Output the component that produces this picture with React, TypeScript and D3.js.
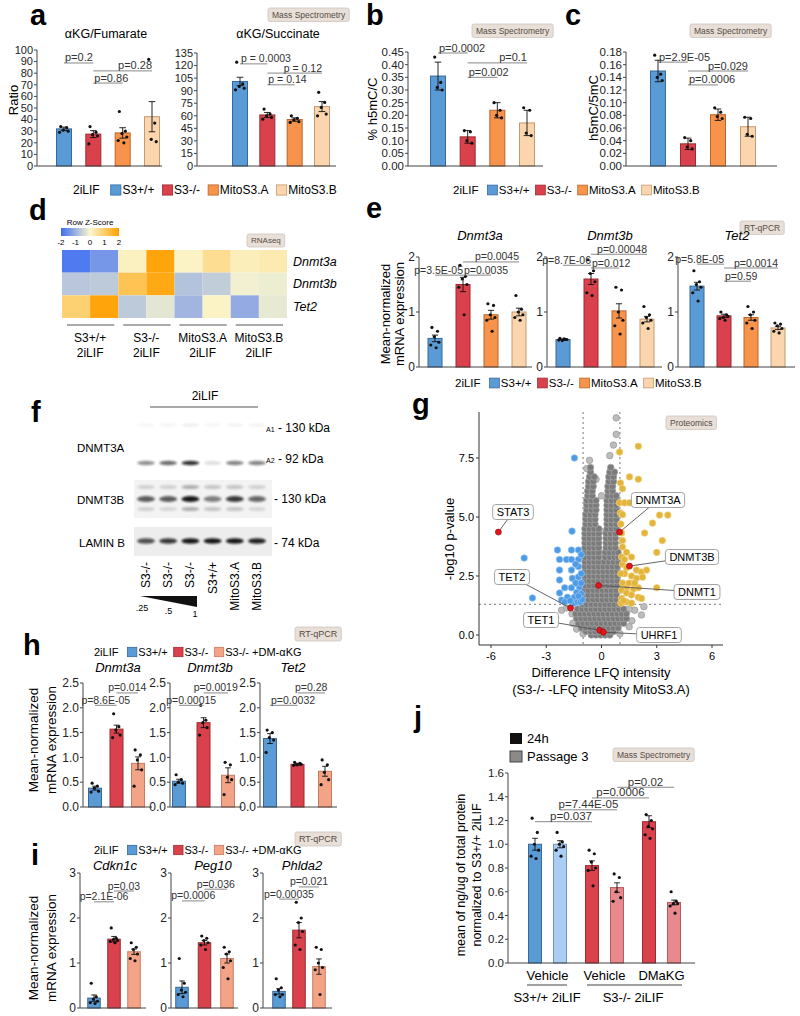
import React from "react";
import * as d3 from "d3";

const FONT = "Arial, 'Liberation Sans', Helvetica, sans-serif";
const AX = "#444";

const COL = {
  wt: "#5b9bd5", wtS: "#34699d",
  ko: "#d9414c", koS: "#9e2a31",
  mA: "#f7934a", mAS: "#b9652b",
  mB: "#fbd5ae", mBS: "#c29a70",
  dm: "#f4a486", dmS: "#c97a60",
  wtL: "#aacdf6", wtLS: "#6c93bf",
  koL: "#e8898d", koLS: "#b55a60",
};

// ===================== DATA =====================
const groups4 = ["S3+/+", "S3-/-", "MitoS3.A", "MitoS3.B"];
const groups3 = ["S3+/+", "S3-/-", "S3-/- +DM-αKG"];

// a
const fumMeans = [32, 27.5, 28.5, 42.5];
const fumErr = [1.5, 3, 4.5, 13];
const fumDots = [[34, 33, 31, 30, 29], [34, 29, 27, 26, 19], [47, 30, 28, 25, 22, 20], [92, 37, 23, 21]];
const sucMeans = [101, 61, 55.5, 71];
const sucErr = [5, 3, 2, 6];
const sucDots = [[124, 98, 95, 93, 91], [68, 62, 60, 58, 56], [60, 57, 55, 53, 52], [88, 76, 70, 62, 60]];
// b
const h5mcMeans = [0.355, 0.115, 0.22, 0.17];
const h5mcErr = [0.055, 0.025, 0.03, 0.05];
const h5mcDots = [[0.43, 0.33, 0.31, 0.3], [0.14, 0.135, 0.1, 0.09], [0.25, 0.22, 0.2, 0.19], [0.23, 0.22, 0.13, 0.12]];
// c
const ratioMeans = [0.15, 0.035, 0.081, 0.062];
const ratioErr = [0.017, 0.009, 0.009, 0.015];
const ratioDots = [[0.175, 0.145, 0.14, 0.135], [0.045, 0.04, 0.03, 0.027], [0.092, 0.085, 0.078, 0.075], [0.077, 0.075, 0.05, 0.047]];

// d
const dGenes = ["Dnmt3a", "Dnmt3b", "Tet2"];
const dZ = [
  [-1.8, -1.4, 0.15, 1.9, 0.1, 0.6, 0.2, 0.3],
  [-0.7, -0.65, 1.2, 1.8, -0.75, -0.6, -0.1, -0.15],
  [0.9, 1.9, -0.65, -0.25, -0.95, 0.1, -1.1, -0.2],
];
const zTicks = [-2, -1, 0, 1, 2];

// e
const eGenes = ["Dnmt3a", "Dnmt3b", "Tet2"];
const eMeans = [[0.52, 1.5, 0.95, 1.0], [0.5, 1.6, 1.02, 0.87], [1.47, 0.93, 0.9, 0.71]];
const eErr = [[0.06, 0.13, 0.08, 0.07], [0.01, 0.1, 0.13, 0.05], [0.07, 0.03, 0.05, 0.03]];
const eDots = [
  [[0.72, 0.65, 0.55, 0.45, 0.4, 0.35], [1.85, 1.65, 1.6, 1.5, 1.45, 0.95], [1.15, 1.12, 0.95, 0.9, 0.85, 0.65], [1.3, 1.05, 1.0, 0.95, 0.9, 0.85]],
  [[0.52, 0.5, 0.48, 0.5, 0.49, 0.51], [1.95, 1.75, 1.7, 1.55, 1.35, 1.3], [1.45, 1.4, 1.0, 0.85, 0.75, 0.6], [1.1, 0.95, 0.9, 0.85, 0.8, 0.7]],
  [[1.75, 1.55, 1.5, 1.45, 1.35, 1.2], [1.0, 0.95, 0.9, 0.92, 0.88, 0.85], [1.1, 1.0, 0.95, 0.85, 0.8, 0.7], [0.8, 0.78, 0.75, 0.7, 0.65, 0.62]],
];

// f
const blotLanes = ["S3-/-", "S3-/-", "S3-/-", "S3+/+", "MitoS3.A", "MitoS3.B"];
const dnmt3aA1 = [0.03, 0.04, 0.06, 0.03, 0.04, 0.04];
const dnmt3aA2 = [0.45, 0.6, 0.85, 0.12, 0.5, 0.5];
const dnmt3bUpper = [0.15, 0.15, 0.3, 0.2, 0.2, 0.15];
const dnmt3bMain = [0.65, 0.65, 0.95, 0.5, 0.8, 0.6];
const dnmt3bLower = [0.15, 0.12, 0.3, 0.2, 0.2, 0.12];
const laminB = [0.7, 0.8, 0.95, 0.95, 0.95, 0.9];
const wedgeLabels = [".25", ".5", "1"];

// g
const grayCloudRows = [
  "0.0|-0.55 -0.3 -0.05 0.2 0.45",
  "0.15|-0.85 -0.6 -0.35 -0.1 0.15 0.4 0.65",
  "0.3|-1.1 -0.85 -0.6 -0.35 -0.1 0.15 0.4 0.65 0.9",
  "0.5|-1.25 -1.0 -0.75 -0.5 -0.25 0.0 0.25 0.5 0.75 1.0 1.2",
  "0.7|-1.35 -1.1 -0.85 -0.6 -0.35 -0.1 0.15 0.4 0.65 0.9 1.15 1.35",
  "0.9|-1.4 -1.15 -0.9 -0.65 -0.4 -0.15 0.1 0.35 0.6 0.85 1.1 1.35",
  "1.1|-1.3 -1.05 -0.8 -0.55 -0.3 -0.05 0.2 0.45 0.7 0.95 1.2",
  "1.3|-1.05 -0.8 -0.55 -0.3 -0.05 0.2 0.45 0.7 0.95",
  "1.5|-0.95 -0.7 -0.45 -0.2 0.05 0.3 0.55 0.8",
  "1.7|-0.95 -0.7 -0.45 -0.2 0.05 0.3 0.55 0.8",
  "1.9|-0.95 -0.7 -0.45 -0.2 0.05 0.3 0.55 0.8",
  "2.1|-0.9 -0.65 -0.4 -0.15 0.1 0.35 0.6 0.85",
  "2.3|-0.9 -0.65 -0.4 -0.15 0.1 0.35 0.6 0.85",
  "2.5|-0.9 -0.65 -0.4 -0.15 0.1 0.35 0.6 0.85",
  "2.7|-0.9 -0.65 -0.4 -0.15 0.1 0.35 0.6 0.85",
  "2.9|-0.9 -0.65 -0.4 -0.15 0.1 0.35 0.6 0.85",
  "3.1|-0.9 -0.65 -0.4 -0.15 0.15 0.4 0.65 0.9",
  "3.3|-0.9 -0.65 -0.4 -0.15 0.2 0.45 0.7 0.9",
  "3.5|-0.9 -0.65 -0.4 -0.15 0.2 0.45 0.7 0.9",
  "3.7|-0.9 -0.65 -0.4 -0.15 0.25 0.5 0.75",
  "3.9|-0.9 -0.65 -0.4 -0.15 0.25 0.5 0.75",
  "4.1|-0.9 -0.65 -0.4 -0.15 0.25 0.5 0.75",
  "4.3|-0.9 -0.65 -0.4 -0.15 0.25 0.5 0.75",
  "4.5|-0.9 -0.65 -0.4 -0.15 0.3 0.55 0.8",
  "4.7|-0.85 -0.6 -0.35 0.3 0.55 0.8",
  "4.9|-0.85 -0.6 -0.35 0.3 0.55 0.8",
  "5.1|-0.85 -0.6 -0.35 0.3 0.55 0.8",
  "5.3|-0.8 -0.55 -0.3 0.3 0.55 0.8",
  "5.5|-0.8 -0.55 -0.3 0.3 0.55 0.8",
  "5.7|-0.8 -0.55 -0.3 0.3 0.55 0.8",
  "5.9|-0.75 -0.5 0.35 0.6 0.8",
  "6.1|-0.75 -0.5 0.35 0.6",
  "6.3|-0.7 -0.45 0.35 0.6",
  "6.5|-0.7 -0.45 0.4 0.65",
  "6.7|-0.65 -0.4 0.4 0.65",
  "6.9|-0.6 0.45 0.7",
  "7.1|-0.6 0.5",
];
const grayOutliers = [[0.8, 9.2], [0.8, 8.5], [0.65, 8.05], [0.45, 7.6], [-0.65, 7.4], [-0.8, 7.05], [-0.3, 6.6], [0.0, 5.9], [-0.05, 4.4], [-2.17, 1.05], [-2.5, 0.75], [2.17, 0.85], [1.8, 1.05], [2.3, 1.2], [-1.9, 1.15], [-1.6, 0.9], [1.5, 1.1], [1.65, 0.6], [-1.55, 0.5], [1.5, 0.35], [-1.35, 0.25], [1.0, 0.05], [-1.0, 0.05]];
const blueHits = [[-1.47, 7.5], [-1.6, 4.4], [-4.2, 3.26], [-3.75, 1.57], [-2.39, 3.6], [-1.63, 3.6], [-1.25, 3.6], [-2.28, 3.2], [-1.9, 3.2], [-1.63, 3.2], [-1.25, 3.2], [-1.25, 2.9], [-2.28, 2.75], [-1.63, 2.75], [-2.28, 2.33], [-1.58, 2.4], [-1.25, 2.46], [-2.0, 2.0], [-1.63, 2.0], [-1.2, 2.03], [-2.28, 1.78], [-1.85, 1.6], [-1.47, 1.6], [-1.2, 1.57], [-2.17, 1.48], [-1.5, 1.35], [-1.3, 1.4], [-1.15, 1.4], [-2.0, 1.4], [-1.35, 1.8], [-1.1, 1.75], [-1.4, 2.2], [-1.1, 2.2], [-1.1, 2.6], [-1.4, 3.0], [-1.1, 3.4], [-1.7, 1.45], [-1.05, 1.5], [-1.25, 1.65]];
const yellowHits = [[2.0, 8.0], [0.98, 7.75], [1.52, 6.7], [2.0, 6.6], [1.03, 6.44], [1.14, 6.2], [0.98, 5.6], [1.25, 5.6], [1.52, 5.6], [1.03, 5.17], [1.14, 5.1], [3.15, 5.08], [3.6, 5.08], [2.77, 4.74], [2.34, 4.32], [3.3, 4.0], [1.09, 4.32], [1.14, 4.0], [1.14, 3.73], [3.0, 3.5], [1.36, 3.5], [1.63, 3.3], [1.09, 3.3], [1.14, 3.0], [1.36, 2.85], [1.9, 2.75], [2.17, 2.67], [2.45, 2.75], [1.25, 2.6], [1.63, 2.5], [1.9, 2.4], [2.23, 2.45], [1.14, 2.2], [1.36, 2.0], [1.74, 1.95], [2.0, 2.0], [3.0, 2.0], [1.09, 1.9], [1.36, 1.78], [1.63, 1.7], [2.0, 1.6], [1.09, 1.55], [1.36, 1.4], [1.63, 1.35], [2.17, 1.55], [1.05, 2.6], [1.05, 1.35], [1.2, 1.45], [1.5, 2.2], [1.8, 2.2], [1.25, 3.2], [1.05, 4.7]];
const volcanoGenes = [
  { name: "STAT3", x: -5.6, y: 4.36 },
  { name: "TET2", x: -1.68, y: 1.14 },
  { name: "TET1", x: -0.1, y: 0.2 },
  { name: "UHRF1", x: 0.1, y: 0.12 },
  { name: "DNMT1", x: -0.16, y: 2.1 },
  { name: "DNMT3A", x: 0.98, y: 4.36 },
  { name: "DNMT3B", x: 1.52, y: 2.92 },
];
const volcanoXTicks = [-6, -3, 0, 3, 6];
const volcanoYTicks = [0, 2.5, 5, 7.5];

// h
const hGenes = ["Dnmt3a", "Dnmt3b", "Tet2"];
const hMeans = [[0.38, 1.57, 0.88], [0.52, 1.7, 0.64], [1.38, 0.86, 0.72]];
const hErr = [[0.04, 0.08, 0.13], [0.04, 0.1, 0.15], [0.1, 0.02, 0.1]];
const hDots = [
  [[0.48, 0.42, 0.38, 0.32, 0.3], [1.88, 1.62, 1.55, 1.45, 1.4], [1.15, 1.05, 0.95, 0.75, 0.42]],
  [[0.65, 0.55, 0.5, 0.48, 0.45], [2.05, 1.75, 1.7, 1.6, 1.45], [0.9, 0.85, 0.6, 0.55, 0.25]],
  [[1.55, 1.5, 1.4, 1.35, 1.1], [0.9, 0.88, 0.85, 0.86, 0.84], [0.95, 0.85, 0.7, 0.55, 0.45]],
];

// i
const iGenes = ["Cdkn1c", "Peg10", "Phlda2"];
const iMeans = [[0.22, 1.53, 1.25], [0.46, 1.45, 1.1], [0.37, 1.73, 0.92]];
const iErr = [[0.07, 0.06, 0.06], [0.14, 0.05, 0.1], [0.06, 0.17, 0.17]];
const iDots = [
  [[0.55, 0.25, 0.2, 0.15, 0.12, 0.1], [1.78, 1.55, 1.52, 1.5, 1.48, 1.45], [1.45, 1.35, 1.3, 1.2, 1.1, 1.05]],
  [[1.1, 0.55, 0.4, 0.35, 0.3, 0.25], [1.6, 1.55, 1.5, 1.45, 1.4, 1.3], [1.35, 1.25, 1.2, 1.05, 0.9, 0.65]],
  [[0.65, 0.45, 0.4, 0.3, 0.3, 0.25], [2.35, 2.0, 1.9, 1.7, 1.4, 1.3], [1.35, 1.3, 1.0, 0.9, 0.85, 0.3]],
];

// j
const jConditions = ["S3+/+ Vehicle", "S3-/- Vehicle", "S3-/- DMaKG"];
const jTimes = ["24h", "Passage 3"];
const jMeans = [1.0, 1.0, 0.82, 0.635, 1.19, 0.51];
const jErr = [0.05, 0.03, 0.04, 0.04, 0.05, 0.02];
const jDots = [[1.22, 1.1, 1.0, 0.95, 0.9, 0.88], [1.1, 1.02, 1.0, 0.98, 0.95, 0.9], [0.95, 0.92, 0.85, 0.8, 0.78, 0.65], [0.75, 0.72, 0.6, 0.55, 0.52], [1.25, 1.2, 1.15, 1.13, 1.08, 1.05], [0.6, 0.52, 0.5, 0.5, 0.48, 0.42]];

// ===================== HELPERS =====================
let _ctx: any = null;
function textW(s: string, size: number) {
  if (!_ctx) _ctx = document.createElement("canvas").getContext("2d");
  _ctx.font = `${size}px Arial, "Liberation Sans", sans-serif`;
  return _ctx.measureText(s).width;
}

type PV = { a: number; b: number; y: number; label: string; anchor: "start" | "middle" | "end" };
type BCProps = {
  axisX: number; xEnd: number; yBottom: number; yTop: number; max: number;
  ticks: number[]; fmt: (v: number) => string; tickSize: number;
  xs: number[]; barW: number; means: number[]; errs: number[]; dots: number[][];
  fills: string[]; strokes: string[]; pvals: PV[]; pSize: number; dotR?: number;
};
const JIT = [-0.22, 0.18, -0.05, 0.28, -0.3, 0.08, 0.24, -0.14];

function BarChart(p: BCProps) {
  const y = d3.scaleLinear().domain([0, p.max]).range([p.yBottom, p.yTop]);
  const hw = p.barW / 2;
  const r = p.dotR ?? 1.6;
  return (
    <g>
      {p.means.map((m, i) => (
        <rect key={"b" + i} x={p.xs[i] - hw} y={y(m)} width={p.barW} height={p.yBottom - y(m)} fill={p.fills[i]} stroke={p.strokes[i]} strokeWidth={1} />
      ))}
      {p.means.map((m, i) => {
        const e = p.errs[i];
        const cx = p.xs[i];
        const cw = p.barW * 0.22;
        return (
          <g key={"e" + i} stroke="#111" strokeWidth={0.9}>
            <line x1={cx} x2={cx} y1={y(m - e)} y2={y(m + e)} />
            <line x1={cx - cw} x2={cx + cw} y1={y(m + e)} y2={y(m + e)} />
            <line x1={cx - cw} x2={cx + cw} y1={y(m - e)} y2={y(m - e)} />
          </g>
        );
      })}
      {p.dots.map((ds, i) => ds.map((d, j) => (
        <circle key={`d${i}-${j}`} cx={p.xs[i] + JIT[j % 8] * p.barW} cy={y(d)} r={r} fill="#111" />
      )))}
      <line x1={p.axisX} x2={p.axisX} y1={p.yBottom} y2={p.yTop} stroke={AX} />
      <line x1={p.axisX} x2={p.xEnd} y1={p.yBottom} y2={p.yBottom} stroke={AX} />
      {p.ticks.map((t) => (
        <g key={"t" + t}>
          <line x1={p.axisX - 3} x2={p.axisX} y1={y(t)} y2={y(t)} stroke={AX} />
          <text x={p.axisX - 4} y={y(t)} dy="0.35em" textAnchor="end" fontSize={p.tickSize} fill="#222">{p.fmt(t)}</text>
        </g>
      ))}
      {p.pvals.map((pv, k) => {
        const x1 = p.xs[pv.a], x2 = p.xs[pv.b], yy = y(pv.y);
        const tx = pv.anchor === "start" ? x1 + 1 : pv.anchor === "end" ? x2 : (x1 + x2) / 2;
        return (
          <g key={"p" + k}>
            <line x1={x1} x2={x2} y1={yy} y2={yy} stroke="#888" strokeWidth={1} />
            <text x={tx} y={yy - 1.5} textAnchor={pv.anchor} fontSize={p.pSize} fill="#333">{pv.label}</text>
          </g>
        );
      })}
    </g>
  );
}

function Badge({ x, y, text, size = 8.5 }: { x: number; y: number; text: string; size?: number }) {
  const w = textW(text, size) + 8;
  const h = size + 5;
  return (
    <g>
      <rect x={x} y={y} width={w} height={h} rx={2} fill="#e7dfd8" stroke="#cfc5bc" strokeWidth={0.8} />
      <text x={x + w / 2} y={y + h / 2} dy="0.35em" textAnchor="middle" fontSize={size} fill="#574c44">{text}</text>
    </g>
  );
}

function Legend({ x, y, size, gap, labels, fills, strokes }: { x: number; y: number; size: number; gap: number; labels: string[]; fills: string[]; strokes: string[] }) {
  let cx = x + textW("2iLIF", size) + gap + 3;
  const els: any[] = [<text key="t" x={x} y={y} dy="0.35em" fontSize={size}>2iLIF</text>];
  const s = size * 0.85;
  labels.forEach((lab, i) => {
    els.push(<rect key={"r" + i} x={cx} y={y - s / 2} width={s} height={s} fill={fills[i]} stroke={strokes[i]} strokeWidth={0.8} />);
    cx += s + 1.5;
    els.push(<text key={"l" + i} x={cx} y={y} dy="0.35em" fontSize={size}>{lab}</text>);
    cx += textW(lab, size) + gap;
  });
  return <g>{els}</g>;
}

function Letter({ x, y, c }: { x: number; y: number; c: string }) {
  return <text x={x} y={y} fontSize={29} fontWeight="bold">{c}</text>;
}

function YLabel({ x, y, lines, size, gap }: { x: number; y: number; lines: string[]; size: number; gap: number }) {
  return (
    <g>
      {lines.map((l, i) => (
        <text key={i} transform={`translate(${x + i * gap},${y}) rotate(-90)`} textAnchor="middle" dy="0.35em" fontSize={size}>{l}</text>
      ))}
    </g>
  );
}

const fills4 = [COL.wt, COL.ko, COL.mA, COL.mB];
const strokes4 = [COL.wtS, COL.koS, COL.mAS, COL.mBS];
const fills3 = [COL.wt, COL.ko, COL.dm];
const strokes3 = [COL.wtS, COL.koS, COL.dmS];

// ===================== PANELS =====================
function PanelABC() {
  const idx = d3.range(4);
  const xa1 = d3.scalePoint<number>().domain(idx).range([64, 152]);
  const xa2 = d3.scalePoint<number>().domain(idx).range([240, 322]);
  const xb = d3.scalePoint<number>().domain(idx).range([438, 527]);
  const xc = d3.scalePoint<number>().domain(idx).range([658, 748]);
  const fInt = d3.format("d");
  const f2 = d3.format(".2f");
  return (
    <g>
      <Letter x={30} y={25} c="a" />
      <Letter x={366} y={25} c="b" />
      <Letter x={565} y={25} c="c" />
      <Badge x={268} y={8} text="Mass Spectrometry" />
      <Badge x={472} y={24} text="Mass Spectrometry" />
      <Badge x={690} y={24} text="Mass Spectrometry" />
      <text x={106} y={38} textAnchor="middle" fontSize={12.5}>αKG/Fumarate</text>
      <text x={278} y={38} textAnchor="middle" fontSize={12.5}>αKG/Succinate</text>
      <YLabel x={13} y={100} lines={["Ratio"]} size={13} gap={0} />
      <YLabel x={372} y={109} lines={["% h5mC/C"]} size={13} gap={0} />
      <YLabel x={593} y={108} lines={["h5mC/5mC"]} size={13} gap={0} />
      <BarChart axisX={37} xEnd={162} yBottom={166} yTop={50} max={100} ticks={d3.range(0, 101, 10)} fmt={fInt} tickSize={11}
        xs={idx.map((i) => xa1(i)!)} barW={15} means={fumMeans} errs={fumErr} dots={fumDots} fills={fills4} strokes={strokes4}
        pSize={11} pvals={[
          { a: 0, b: 1, y: 88.8, label: "p=0.2", anchor: "start" },
          { a: 1, b: 3, y: 82, label: "p=0.28", anchor: "end" },
          { a: 1, b: 2, y: 71.5, label: "p=0.86", anchor: "start" },
        ]} />
      <BarChart axisX={197} xEnd={336} yBottom={166} yTop={53} max={135} ticks={d3.range(0, 136, 15)} fmt={fInt} tickSize={11}
        xs={idx.map((i) => xa2(i)!)} barW={15} means={sucMeans} errs={sucErr} dots={sucDots} fills={fills4} strokes={strokes4}
        pSize={10.5} pvals={[
          { a: 0, b: 1, y: 122, label: "p = 0.0003", anchor: "start" },
          { a: 1, b: 3, y: 111, label: "p = 0.12", anchor: "end" },
          { a: 1, b: 2, y: 97, label: "p = 0.14", anchor: "start" },
        ]} />
      <BarChart axisX={408} xEnd={543} yBottom={166} yTop={52} max={0.45} ticks={d3.range(10).map((i) => i * 0.05)} fmt={f2} tickSize={11.5}
        xs={idx.map((i) => xb(i)!)} barW={15} means={h5mcMeans} errs={h5mcErr} dots={h5mcDots} fills={fills4} strokes={strokes4}
        pSize={11} pvals={[
          { a: 0, b: 1, y: 0.446, label: "p=0.0002", anchor: "start" },
          { a: 1, b: 3, y: 0.407, label: "p=0.1", anchor: "end" },
          { a: 1, b: 2, y: 0.35, label: "p=0.002", anchor: "start" },
        ]} />
      <BarChart axisX={626} xEnd={777} yBottom={166} yTop={52} max={0.18} ticks={d3.range(10).map((i) => i * 0.02)} fmt={f2} tickSize={11.5}
        xs={idx.map((i) => xc(i)!)} barW={15} means={ratioMeans} errs={ratioErr} dots={ratioDots} fills={fills4} strokes={strokes4}
        pSize={11} pvals={[
          { a: 0, b: 1, y: 0.164, label: "p=2.9E-05", anchor: "start" },
          { a: 1, b: 3, y: 0.15, label: "p=0.029", anchor: "end" },
          { a: 1, b: 2, y: 0.128, label: "p=0.0006", anchor: "start" },
        ]} />
      <Legend x={73} y={190} size={12} gap={8} labels={groups4} fills={fills4} strokes={strokes4} />
      <Legend x={453} y={190} size={11.5} gap={6} labels={groups4} fills={fills4} strokes={strokes4} />
    </g>
  );
}

function PanelD() {
  const cols = d3.scaleBand<number>().domain(d3.range(8)).range([62, 287]);
  const rows = d3.scaleBand<number>().domain(d3.range(3)).range([250, 318]);
  const grp = d3.scaleBand<number>().domain(d3.range(4)).range([62, 287]);
  const color = d3.scaleLinear<string>().domain([-2, 0, 2]).range(["#3d6cf2", "#fbf7cf", "#ffa000"]).interpolate(d3.interpolateRgb);
  const cb = d3.scaleLinear().domain([-2, 2]).range([61, 119]);
  return (
    <g>
      <Letter x={29} y={220} c="d" />
      <defs>
        <linearGradient id="zgrad" x1="0" x2="1" y1="0" y2="0">
          {zTicks.map((z) => <stop key={z} offset={(z + 2) / 4} stopColor={color(z)} />)}
        </linearGradient>
      </defs>
      <text x={90} y={225} textAnchor="middle" fontSize={8}>Row Z-Score</text>
      <rect x={cb(-2)} y={228} width={cb(2) - cb(-2)} height={8} fill="url(#zgrad)" />
      {zTicks.map((z) => <text key={z} x={cb(z)} y={245} textAnchor="middle" fontSize={8}>{z}</text>)}
      <Badge x={247} y={234} text="RNAseq" size={8} />
      {dZ.map((row, ri) => row.map((z, ci) => (
        <rect key={`${ri}-${ci}`} x={cols(ci)} y={rows(ri)} width={cols.bandwidth()} height={rows.bandwidth()} fill={color(z)} />
      )))}
      {dGenes.map((g, ri) => (
        <text key={g} x={293} y={rows(ri)! + rows.bandwidth() / 2} dy="0.35em" fontSize={12.5} fontStyle="italic">{g}</text>
      ))}
      {groups4.map((g, gi) => (
        <g key={g}>
          <line x1={grp(gi)! + 5} x2={grp(gi)! + grp.bandwidth() - 4} y1={325} y2={325} stroke="#555" strokeWidth={1.2} />
          <text x={grp(gi)! + grp.bandwidth() / 2} y={342} textAnchor="middle" fontSize={12}>{g}</text>
          <text x={grp(gi)! + grp.bandwidth() / 2} y={357} textAnchor="middle" fontSize={12}>2iLIF</text>
        </g>
      ))}
    </g>
  );
}

function PanelE() {
  const idx = d3.range(4);
  const axes = [419, 547, 678];
  const firsts = [435, 563, 697];
  const lasts = [519, 647, 778];
  const ends = [532, 662, 795];
  const titlesX = [480, 610, 737];
  const pv: PV[][] = [
    [{ a: 0, b: 1, y: 1.67, label: "p=3.5E-05", anchor: "end" }, { a: 1, b: 3, y: 1.91, label: "p=0.0045", anchor: "end" }, { a: 1, b: 2, y: 1.67, label: "p=0.0035", anchor: "start" }],
    [{ a: 0, b: 1, y: 1.85, label: "p=8.7E-06", anchor: "end" }, { a: 1, b: 3, y: 2.05, label: "p=0.00048", anchor: "end" }, { a: 1, b: 2, y: 1.8, label: "p=0.012", anchor: "start" }],
    [{ a: 0, b: 1, y: 1.87, label: "p=5.8E-05", anchor: "end" }, { a: 1, b: 3, y: 1.8, label: "p=0.0014", anchor: "end" }, { a: 1, b: 2, y: 1.56, label: "p=0.59", anchor: "start" }],
  ];
  return (
    <g>
      <Letter x={366} y={218} c="e" />
      <Badge x={740} y={221} text="RT-qPCR" />
      <YLabel x={385} y={314} lines={["Mean-normalized", "mRNA expression"]} size={13} gap={14} />
      {eGenes.map((g, k) => {
        const x = d3.scalePoint<number>().domain(idx).range([firsts[k], lasts[k]]);
        return (
          <g key={g}>
            <text x={titlesX[k]} y={240} textAnchor="middle" fontSize={13} fontStyle="italic">{g}</text>
            <BarChart axisX={axes[k]} xEnd={ends[k]} yBottom={367} yTop={257} max={2} ticks={[0, 1, 2]} fmt={d3.format("d")} tickSize={12}
              xs={idx.map((i) => x(i)!)} barW={14} means={eMeans[k]} errs={eErr[k]} dots={eDots[k]} fills={fills4} strokes={strokes4}
              pSize={10.5} pvals={pv[k]} />
          </g>
        );
      })}
      <Legend x={455} y={383} size={11.5} gap={6} labels={groups4} fills={fills4} strokes={strokes4} />
    </g>
  );
}

function Band({ x, y, v, rx = 9, ry = 2.6 }: { x: number; y: number; v: number; rx?: number; ry?: number }) {
  return <ellipse cx={x} cy={y} rx={rx} ry={ry} fill="#111" opacity={v} filter="url(#blur)" />;
}

function PanelF() {
  const lx = d3.scalePoint<number>().domain(d3.range(6)).range([146, 257]);
  const wx = d3.scalePoint<number>().domain(d3.range(3)).range([142, 195]);
  return (
    <g>
      <defs>
        <filter id="blur" x="-50%" y="-100%" width="200%" height="300%"><feGaussianBlur stdDeviation="1.1" /></filter>
      </defs>
      <Letter x={31} y={422} c="f" />
      <text x={205} y={400} textAnchor="middle" fontSize={12}>2iLIF</text>
      <line x1={150} x2={258} y1={407} y2={407} stroke="#555" />
      <text x={77} y={452} fontSize={11.5}>DNMT3A</text>
      <text x={77} y={504} fontSize={11.5}>DNMT3B</text>
      <text x={79} y={547} fontSize={11.5}>LAMIN B</text>
      <rect x={134} y={480} width={138} height={38} fill="#f3f3f3" />
      <rect x={134} y={527} width={138} height={29} fill="#ededed" />
      {blotLanes.map((_, i) => (
        <g key={i}>
          <Band x={lx(i)!} y={425} v={dnmt3aA1[i]} ry={2} />
          <Band x={lx(i)!} y={463} v={dnmt3aA2[i]} ry={2.2} />
          <Band x={lx(i)!} y={487} v={dnmt3bUpper[i]} ry={2} />
          <Band x={lx(i)!} y={499} v={dnmt3bMain[i]} ry={3} />
          <Band x={lx(i)!} y={509} v={dnmt3bLower[i]} ry={2} />
          <Band x={lx(i)!} y={541} v={laminB[i]} ry={2.8} />
          <text transform={`translate(${lx(i)! + 4},562) rotate(-90)`} textAnchor="end" fontSize={12}>{blotLanes[i]}</text>
        </g>
      ))}
      <text x={266} y={432} fontSize={7}>A1</text>
      <text x={278} y={432} fontSize={12}>- 130 kDa</text>
      <text x={266} y={463} fontSize={7}>A2</text>
      <text x={278} y={463} fontSize={12}>- 92 kDa</text>
      <text x={274} y={503} fontSize={12}>- 130 kDa</text>
      <text x={274} y={547} fontSize={12}>- 74 kDa</text>
      <polygon points="140,596 197,596 197,607" fill="#111" />
      {wedgeLabels.map((l, i) => (
        <text key={l} x={wx(i)!} y={611 + i * 3} textAnchor="middle" fontSize={9}>{l}</text>
      ))}
    </g>
  );
}

function PanelG() {
  const x = d3.scaleLinear().domain([-6, 6]).range([491, 712]);
  const y = d3.scaleLinear().domain([0, 7.5]).range([635, 458]);
  const cloud = grayCloudRows.flatMap((row) => {
    const [yy, xs] = row.split("|");
    return xs.trim().split(/\s+/).map((v) => [+v, +yy]);
  });
  const labelPos: Record<string, [number, number]> = {
    STAT3: [513, 512], TET2: [512, 577], TET1: [541, 620], UHRF1: [659, 635],
    DNMT1: [697, 592], DNMT3B: [692, 557], DNMT3A: [658, 500],
  };
  const R = 3.3;
  return (
    <g>
      <Letter x={412} y={414} c="g" />
      <Badge x={666} y={416} text="Proteomics" />
      <line x1={x(-1)} x2={x(-1)} y1={412} y2={645} stroke="#777" strokeDasharray="2,3" />
      <line x1={x(1)} x2={x(1)} y1={412} y2={645} stroke="#777" strokeDasharray="2,3" />
      <line x1={479} x2={723} y1={y(1.3)} y2={y(1.3)} stroke="#777" strokeDasharray="2,3" />
      {grayOutliers.map((p, i) => <circle key={"o" + i} cx={x(p[0])} cy={y(p[1])} r={R} fill="#bcbcbc" stroke="#999" strokeWidth={0.7} />)}
      {cloud.map((p, i) => <circle key={"c" + i} cx={x(p[0])} cy={y(p[1])} r={R} fill="#7b7b7b" stroke="#a8a8a8" strokeWidth={0.7} />)}
      {blueHits.map((p, i) => <circle key={"b" + i} cx={x(p[0])} cy={y(p[1])} r={R} fill="#4d9be6" stroke="#9ac6f0" strokeWidth={0.7} />)}
      {yellowHits.map((p, i) => <circle key={"y" + i} cx={x(p[0])} cy={y(p[1])} r={R} fill="#e2b43c" stroke="#f1d37e" strokeWidth={0.7} />)}
      {volcanoGenes.map((g) => {
        const [bx, by] = labelPos[g.name];
        return <line key={"l" + g.name} x1={x(g.x)} y1={y(g.y)} x2={bx} y2={by} stroke="#555" strokeWidth={0.9} />;
      })}
      {volcanoGenes.map((g) => <circle key={"r" + g.name} cx={x(g.x)} cy={y(g.y)} r={3} fill="#e3161d" stroke="#8a0a0a" strokeWidth={0.6} />)}
      {volcanoGenes.map((g) => {
        const [bx, by] = labelPos[g.name];
        const w = textW(g.name, 11) + 8;
        return (
          <g key={"bx" + g.name}>
            <rect x={bx - w / 2} y={by - 7.5} width={w} height={15} rx={3} fill="#fff" stroke="#999" strokeWidth={0.9} />
            <text x={bx} y={by} dy="0.35em" textAnchor="middle" fontSize={11}>{g.name}</text>
          </g>
        );
      })}
      <line x1={479} x2={479} y1={412} y2={645} stroke="#333" />
      <line x1={479} x2={723} y1={645} y2={645} stroke="#333" />
      {volcanoYTicks.map((t) => (
        <g key={"yt" + t}>
          <line x1={476} x2={479} y1={y(t)} y2={y(t)} stroke="#333" />
          <text x={474} y={y(t)} dy="0.35em" textAnchor="end" fontSize={11}>{d3.format(".1f")(t)}</text>
        </g>
      ))}
      {volcanoXTicks.map((t) => (
        <g key={"xt" + t}>
          <line x1={x(t)} x2={x(t)} y1={645} y2={648} stroke="#333" />
          <text x={x(t)} y={660} textAnchor="middle" fontSize={11}>{t}</text>
        </g>
      ))}
      <YLabel x={449} y={539} lines={["-log10 p-value"]} size={13} gap={0} />
      <text x={601} y={677} textAnchor="middle" fontSize={13}>Difference LFQ intensity</text>
      <text x={601} y={694} textAnchor="middle" fontSize={13}>(S3-/- -LFQ intensity MitoS3.A)</text>
    </g>
  );
}

function PanelHI() {
  const idx = d3.range(3);
  const hAxes = [83, 170, 260];
  const hFirst = [95, 179, 270];
  const hLast = [138, 228, 325];
  const hEnd = [152, 242, 337];
  const hTitle = [118, 210, 293];
  const iAxes = [80, 171, 263];
  const iFirst = [94, 182, 279];
  const iLast = [134, 227, 319];
  const iEnd = [146, 238, 332];
  const iTitle = [115, 213, 302];
  const hp: PV[][] = [
    [{ a: 1, b: 2, y: 2.3, label: "p=0.014", anchor: "middle" }, { a: 0, b: 1, y: 2.05, label: "p=8.6E-05", anchor: "middle" }],
    [{ a: 1, b: 2, y: 2.3, label: "p=0.0019", anchor: "middle" }, { a: 0, b: 1, y: 2.05, label: "p=0.00015", anchor: "middle" }],
    [{ a: 1, b: 2, y: 2.3, label: "p=0.28", anchor: "middle" }, { a: 0, b: 1, y: 2.05, label: "p=0.0032", anchor: "start" }],
  ];
  const ip: PV[][] = [
    [{ a: 1, b: 2, y: 2.6, label: "p=0.03", anchor: "middle" }, { a: 0, b: 1, y: 2.36, label: "p=2.1E-06", anchor: "middle" }],
    [{ a: 1, b: 2, y: 2.64, label: "p=0.036", anchor: "middle" }, { a: 0, b: 1, y: 2.38, label: "p=0.0006", anchor: "middle" }],
    [{ a: 1, b: 2, y: 2.69, label: "p=0.021", anchor: "middle" }, { a: 0, b: 1, y: 2.42, label: "p=0.00035", anchor: "middle" }],
  ];
  return (
    <g>
      <Letter x={23} y={655} c="h" />
      <Badge x={295} y={627} text="RT-qPCR" size={9} />
      <Legend x={94} y={652} size={11} gap={6} labels={groups3} fills={fills3} strokes={strokes3} />
      <YLabel x={33} y={740} lines={["Mean-normalized", "mRNA expression"]} size={13.5} gap={18} />
      {hGenes.map((g, k) => {
        const x = d3.scalePoint<number>().domain(idx).range([hFirst[k], hLast[k]]);
        return (
          <g key={g}>
            <text x={hTitle[k]} y={672} textAnchor="middle" fontSize={13} fontStyle="italic">{g}</text>
            <BarChart axisX={hAxes[k]} xEnd={hEnd[k]} yBottom={807} yTop={683} max={2.5} ticks={[0, 0.5, 1, 1.5, 2, 2.5]} fmt={d3.format(".1f")} tickSize={12}
              xs={idx.map((i) => x(i)!)} barW={13} means={hMeans[k]} errs={hErr[k]} dots={hDots[k]} fills={fills3} strokes={strokes3}
              pSize={10.5} pvals={hp[k]} />
          </g>
        );
      })}
      <Letter x={31} y={865} c="i" />
      <Badge x={295} y={832} text="RT-qPCR" size={9} />
      <Legend x={94} y={850} size={11} gap={6} labels={groups3} fills={fills3} strokes={strokes3} />
      <YLabel x={33} y={948} lines={["Mean-normalized", "mRNA expression"]} size={13.5} gap={18} />
      {iGenes.map((g, k) => {
        const x = d3.scalePoint<number>().domain(idx).range([iFirst[k], iLast[k]]);
        return (
          <g key={g}>
            <text x={iTitle[k]} y={870} textAnchor="middle" fontSize={13} fontStyle="italic">{g}</text>
            <BarChart axisX={iAxes[k]} xEnd={iEnd[k]} yBottom={1008} yTop={873} max={3} ticks={[0, 1, 2, 3]} fmt={d3.format("d")} tickSize={12}
              xs={idx.map((i) => x(i)!)} barW={12.5} means={iMeans[k]} errs={iErr[k]} dots={iDots[k]} fills={fills3} strokes={strokes3}
              pSize={10.5} pvals={ip[k]} />
          </g>
        );
      })}
    </g>
  );
}

function PanelJ() {
  const gx = d3.scaleBand<string>().domain(jConditions).range([519, 690]);
  const sx = d3.scalePoint<string>().domain(jTimes).range([-12.5, 12.5]);
  const xs: number[] = [];
  jConditions.forEach((c) => jTimes.forEach((t) => xs.push(gx(c)! + gx.bandwidth() / 2 + sx(t)!)));
  const fills = [COL.wt, COL.wtL, COL.ko, COL.koL, COL.ko, COL.koL];
  const strokes = [COL.wtS, COL.wtLS, COL.koS, COL.koLS, COL.koS, COL.koLS];
  const ticks = d3.range(9).map((i) => i * 0.2);
  const xLabels = ["Vehicle", "Vehicle", "DMaKG"];
  return (
    <g>
      <Letter x={414} y={727} c="j" />
      <rect x={510} y={733} width={12} height={11} fill="#111" />
      <text x={527} y={742.5} fontSize={13}>{jTimes[0]}</text>
      <rect x={510} y={751} width={12} height={11} fill="#8a8a8a" stroke="#444" strokeWidth={1} />
      <text x={527} y={760.5} fontSize={13}>{jTimes[1]}</text>
      <Badge x={613} y={748} text="Mass Spectrometry" size={8.5} />
      <YLabel x={461} y={875} lines={["mean of ng/ug of total protein", "normalized to S3+/+ 2iLIF"]} size={12.5} gap={16} />
      <BarChart axisX={508} xEnd={695} yBottom={963} yTop={773} max={1.6} ticks={ticks} fmt={d3.format(".1f")} tickSize={11.5}
        xs={xs} barW={13} means={jMeans} errs={jErr} dots={jDots} fills={fills} strokes={strokes}
        pSize={11.5} pvals={[
          { a: 0, b: 2, y: 1.19, label: "p=0.037", anchor: "end" },
          { a: 1, b: 3, y: 1.29, label: "p=7.44E-05", anchor: "middle" },
          { a: 2, b: 4, y: 1.39, label: "p=0.0006", anchor: "middle" },
          { a: 3, b: 5, y: 1.48, label: "p=0.02", anchor: "middle" },
        ]} />
      {jConditions.map((c, i) => (
        <text key={c} x={gx(c)! + gx.bandwidth() / 2} y={980} textAnchor="middle" fontSize={13}>{xLabels[i]}</text>
      ))}
      <line x1={527} x2={567} y1={985} y2={985} stroke="#444" />
      <line x1={587} x2={682} y1={985} y2={985} stroke="#444" />
      <text x={547} y={1002} textAnchor="middle" fontSize={13}>S3+/+ 2iLIF</text>
      <text x={633} y={1002} textAnchor="middle" fontSize={13}>S3-/- 2iLIF</text>
    </g>
  );
}

export default function App() {
  return (
    <svg width={800} height={1016} viewBox="0 0 800 1016" style={{ position: "absolute", left: 0, top: 0, background: "#fff" }} fontFamily={FONT}>
      <rect x={0} y={0} width={800} height={1016} fill="#fff" />
      <PanelABC />
      <PanelD />
      <PanelE />
      <PanelF />
      <PanelG />
      <PanelHI />
      <PanelJ />
    </svg>
  );
}
